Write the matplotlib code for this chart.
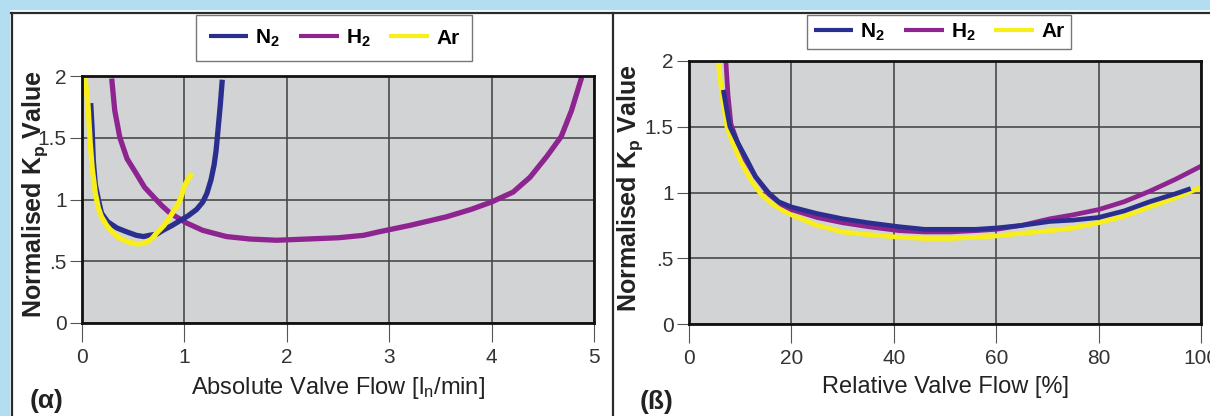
import matplotlib
matplotlib.use("Agg")
import matplotlib.pyplot as plt
from matplotlib.lines import Line2D
from matplotlib.patches import Rectangle

# fonts: no condensed face is installed, Liberation Sans is closest
SANS = ['Liberation Sans', 'DejaVu Sans']
plt.rcParams['font.family'] = SANS
plt.rcParams['mathtext.default'] = 'regular'

# ---- data ----
# (a) absolute valve flow [l_n/min]
n2_abs_x = [0.085, 0.10, 0.11, 0.13, 0.16, 0.19, 0.25, 0.34, 0.43, 0.53, 0.60, 0.66, 0.73,
            0.79, 0.88, 0.96, 1.04, 1.12, 1.18, 1.22, 1.26, 1.29, 1.31, 1.33, 1.35, 1.37]
n2_abs_y = [1.78, 1.55, 1.32, 1.12, 1.00, 0.89, 0.82, 0.77, 0.74, 0.71, 0.70, 0.71, 0.72,
            0.75, 0.79, 0.83, 0.87, 0.92, 0.98, 1.05, 1.16, 1.28, 1.40, 1.58, 1.76, 1.97]

h2_abs_x = [0.29, 0.32, 0.37, 0.44, 0.53, 0.61, 0.70, 0.78, 0.86, 0.94, 1.02, 1.18, 1.41,
            1.64, 1.90, 2.20, 2.50, 2.75, 2.91, 3.20, 3.56, 3.80, 4.00, 4.21, 4.375, 4.54,
            4.68, 4.78, 4.88]
h2_abs_y = [1.98, 1.72, 1.50, 1.33, 1.21, 1.10, 1.02, 0.95, 0.89, 0.85, 0.81, 0.75, 0.70,
            0.68, 0.67, 0.68, 0.69, 0.71, 0.74, 0.79, 0.86, 0.92, 0.98, 1.06, 1.18, 1.35,
            1.51, 1.72, 1.99]

ar_abs_x = [0.03, 0.06, 0.08, 0.10, 0.13, 0.16, 0.19, 0.24, 0.30, 0.38, 0.47, 0.55, 0.62,
            0.68, 0.73, 0.80, 0.86, 0.92, 0.96, 1.00, 1.04, 1.08]
ar_abs_y = [1.99, 1.75, 1.46, 1.25, 1.05, 0.93, 0.86, 0.79, 0.73, 0.68, 0.65, 0.64, 0.65,
            0.68, 0.73, 0.79, 0.86, 0.94, 1.00, 1.11, 1.17, 1.21]

# (b) relative valve flow [%]
n2_rel_x = [6.7, 7.5, 8.0, 9.5, 11.3, 13.0, 15.5, 17.5, 20.0, 25.0, 30.0, 35.0, 41.0, 46.0,
            51.0, 56.0, 60.0, 65.0, 70.5, 75.0, 80.0, 85.0, 90.0, 95.0, 98.0]
n2_rel_y = [1.78, 1.60, 1.50, 1.38, 1.25, 1.12, 1.00, 0.93, 0.89, 0.84, 0.80, 0.77, 0.74, 0.72,
            0.72, 0.72, 0.73, 0.75, 0.78, 0.79, 0.81, 0.86, 0.93, 0.99, 1.03]

h2_rel_x = [7.2, 7.6, 8.2, 9.5, 11.0, 13.0, 15.5, 18.0, 20.0, 25.0, 30.0, 35.0, 41.0, 46.0,
            51.0, 56.0, 60.0, 65.0, 70.5, 75.0, 80.0, 85.0, 90.0, 95.0, 100.0]
h2_rel_y = [2.0, 1.75, 1.52, 1.38, 1.25, 1.12, 0.99, 0.91, 0.87, 0.81, 0.77, 0.74, 0.71, 0.70,
            0.70, 0.71, 0.72, 0.75, 0.80, 0.83, 0.87, 0.93, 1.01, 1.10, 1.20]

ar_rel_x = [5.7, 6.5, 7.4, 8.5, 10.3, 12.0, 14.0, 16.0, 18.0, 20.0, 25.0, 30.0, 35.0, 41.0,
            46.0, 51.0, 56.0, 60.0, 65.0, 70.5, 75.0, 80.0, 85.0, 90.0, 95.0, 100.0]
ar_rel_y = [2.0, 1.72, 1.50, 1.38, 1.22, 1.10, 0.99, 0.92, 0.87, 0.83, 0.75, 0.70, 0.68, 0.66,
            0.65, 0.65, 0.66, 0.67, 0.69, 0.71, 0.73, 0.77, 0.82, 0.89, 0.96, 1.04]

y_ticks = [0, 0.5, 1, 1.5, 2]
y_tick_labels = ['0', '.5', '1', '1.5', '2']
abs_ticks = [0, 1, 2, 3, 4, 5]
rel_ticks = [0, 20, 40, 60, 80, 100]
series_names = ['N$_2$', 'H$_2$', 'Ar']

C_N2 = '#2a2f8f'
C_H2 = '#8e2490'
C_AR = '#f7ee1a'
GRAY_BG = '#d1d3d4'
GRID = '#4a4a4a'

fig = plt.figure(figsize=(12.1, 4.16), dpi=100)
W, H = 1210, 416

# frame decoration: light blue strips, dark panel borders
fig.patches.append(Rectangle((0, 1 - 9 / H), 1, 9 / H, transform=fig.transFigure,
                             color='#b3def2', zorder=0))
fig.patches.append(Rectangle((0, 0), 9 / W, 1, transform=fig.transFigure,
                             color='#b3def2', zorder=0))
for xs, ys in [([11 / W, 1], [1 - 13 / H, 1 - 13 / H]),
               ([12 / W, 12 / W], [0, 1 - 13 / H]),
               ([613 / W, 613 / W], [0, 1 - 13 / H])]:
    fig.add_artist(Line2D(xs, ys, transform=fig.transFigure, color='#2b2b2b', lw=1.6))


def style_axes(ax, xticks, xlim, label_x, label_y):
    ax.set_facecolor(GRAY_BG)
    ax.set_xlim(xlim)
    ax.set_ylim(0, 2)
    ax.set_xticks(xticks)
    ax.set_yticks(y_ticks)
    ax.set_yticklabels(y_tick_labels)
    ax.grid(True, color=GRID, lw=1.2)
    ax.set_axisbelow(True)
    for s in ax.spines.values():
        s.set_color('#111111')
        s.set_linewidth(2.0)
    ax.tick_params(axis='x', direction='out', length=14, width=0.8, color='#555555',
                   labelsize=15, labelcolor='#333333', pad=4)
    ax.tick_params(axis='y', direction='out', length=9, width=0.8, color='#555555',
                   labelsize=15, labelcolor='#333333', pad=2)
    ax.set_ylabel('Normalised K$_{p}$ Value', fontweight='bold', fontsize=18,
                  color='#222222')
    ax.yaxis.set_label_coords(label_x, label_y)


def add_legend(handles, cx, cy, pad):
    leg = fig.legend(handles, series_names, loc='upper center', bbox_to_anchor=(cx, cy),
                     ncol=3, frameon=True, fancybox=False, handlelength=1.9,
                     columnspacing=0.9, handletextpad=0.35, borderpad=pad, borderaxespad=0,
                     prop={'family': SANS, 'size': 15, 'weight': 'bold'})
    leg.get_frame().set_edgecolor('#555555')
    leg.get_frame().set_linewidth(1.0)
    for ln in leg.get_lines():
        ln.set_linewidth(3.0)


# ---- (a) ----
ax1 = fig.add_axes([82 / W, 1 - 323 / H, 512 / W, 247 / H])
style_axes(ax1, abs_ticks, (0, 5), -0.062, 0.52)
l_h2, = ax1.plot(h2_abs_x, h2_abs_y, color=C_H2, lw=3.8, solid_capstyle='butt')
l_n2, = ax1.plot(n2_abs_x, n2_abs_y, color=C_N2, lw=3.8, solid_capstyle='butt')
l_ar, = ax1.plot(ar_abs_x, ar_abs_y, color=C_AR, lw=3.8, solid_capstyle='butt')
ax1.set_xlabel('Absolute Valve Flow [l$_{n}$/min]', fontsize=17, color='#222222', labelpad=6)
add_legend([l_n2, l_h2, l_ar], 334 / W, 1 - 15 / H, 0.6)
fig.text(30 / W, 1 - 401 / H, '(α)', fontsize=19, fontweight='bold', va='center', ha='left',
         color='#222222')

# ---- (b) ----
ax2 = fig.add_axes([689 / W, 1 - 324 / H, 512 / W, 263 / H])
style_axes(ax2, rel_ticks, (0, 100), -0.086, 0.517)
r_ar, = ax2.plot(ar_rel_x, ar_rel_y, color=C_AR, lw=3.4, solid_capstyle='butt')
r_h2, = ax2.plot(h2_rel_x, h2_rel_y, color=C_H2, lw=3.4, solid_capstyle='butt')
r_n2, = ax2.plot(n2_rel_x, n2_rel_y, color=C_N2, lw=3.4, solid_capstyle='butt')
ax2.set_xlabel('Relative Valve Flow [%]', fontsize=17, color='#222222', labelpad=6)
add_legend([r_n2, r_h2, r_ar], 939 / W, 1 - 15 / H, 0.3)
fig.text(640 / W, 1 - 402 / H, '(ß)', fontsize=19, fontweight='bold', va='center', ha='left',
         color='#222222')

fig.savefig('out.png', dpi=100)
